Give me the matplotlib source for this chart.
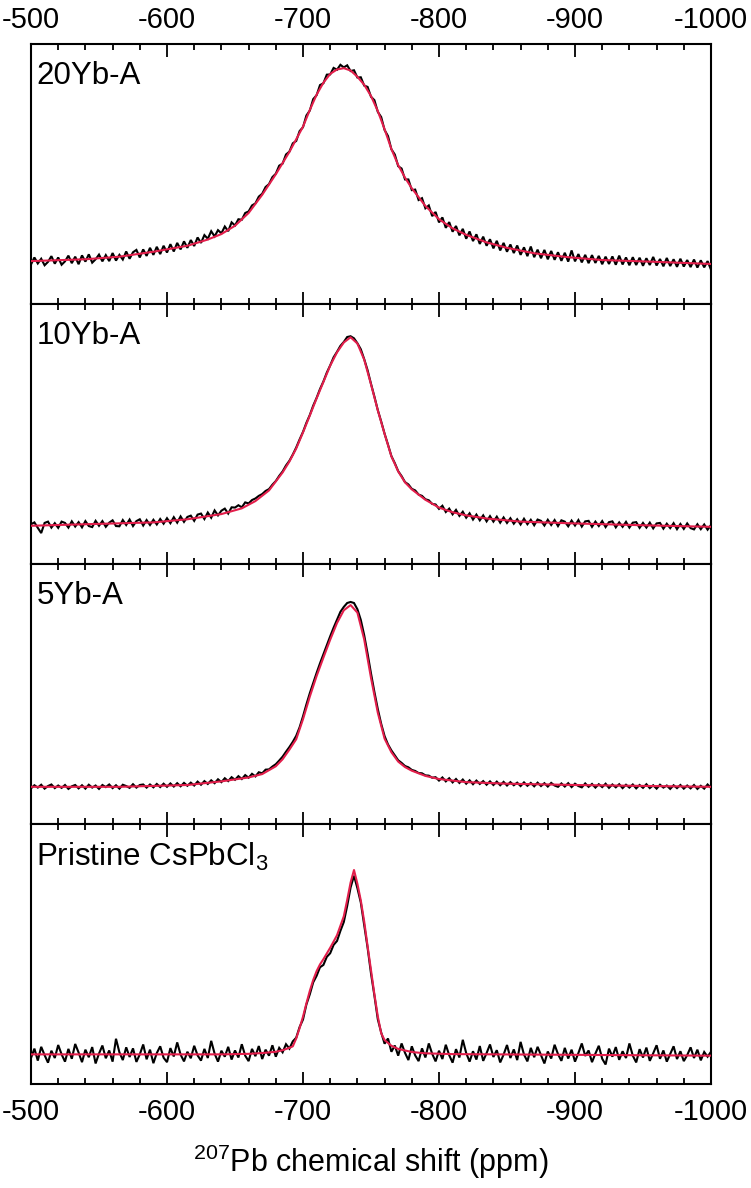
import numpy as np
import matplotlib
matplotlib.use("Agg")
import matplotlib.pyplot as plt
from matplotlib.ticker import MultipleLocator

plt.rcParams['font.family'] = ['Liberation Sans', 'DejaVu Sans']
plt.rcParams['mathtext.fontset'] = 'custom'
plt.rcParams['mathtext.rm'] = 'Liberation Sans'
plt.rcParams['mathtext.default'] = 'regular'
plt.rcParams['axes.unicode_minus'] = False

# ---------------- data (normalised intensity, 0-100 per panel) ----------------
labels = ["20Yb-A", "10Yb-A", "5Yb-A", "Pristine CsPbCl$_3$"]
x_ticks = [-500, -600, -700, -800, -900, -1000]
x_label = "$^{207}$Pb chemical shift (ppm)"

# experimental spectra sampled every 2.5 ppm from -500 to -1000 ppm
exp_20yb = [15.2, 17.9, 15.6, 17.4, 14.9, 16.2, 18.4, 15.5, 17.9, 15.1, 16.4, 18.6, 15.7, 18.2, 15.3, 18.7, 16.3, 19.1, 15.9, 17.2,
            19.0, 16.4, 18.8, 16.5, 19.6, 16.7, 18.9, 17.1, 20.2, 17.4, 19.9, 20.8, 17.9, 21.0, 18.5, 21.6, 18.9, 22.0, 19.2, 22.4,
            19.8, 23.0, 20.2, 23.5, 21.0, 24.1, 21.6, 24.6, 22.3, 25.6, 23.5, 26.5, 25.1, 28.0, 26.0, 28.4, 27.2, 29.8, 28.0, 31.4,
            30.2, 32.6, 32.4, 35.0, 35.6, 37.9, 38.7, 41.3, 42.4, 45.0, 46.1, 48.8, 50.1, 53.2, 54.0, 57.5, 58.6, 61.8, 62.7, 66.5,
            68.0, 72.5, 74.4, 78.8, 80.3, 84.2, 84.9, 88.2, 88.3, 90.8, 90.1, 92.0, 91.0, 91.8, 89.6, 89.9, 87.1, 87.2, 84.0, 83.5,
            79.7, 78.4, 73.9, 71.9, 66.9, 64.6, 59.5, 57.5, 53.0, 52.1, 47.9, 47.9, 43.8, 44.0, 40.0, 40.7, 36.8, 37.9, 33.8, 35.4,
            31.4, 33.3, 29.3, 31.5, 27.8, 30.0, 26.4, 28.9, 25.1, 27.9, 24.2, 26.8, 23.1, 25.9, 22.4, 24.9, 21.4, 24.3, 20.6, 23.5,
            20.1, 22.9, 19.6, 22.5, 18.9, 21.8, 18.4, 22.1, 18.0, 20.9, 17.6, 20.8, 17.2, 20.4, 17.0, 19.9, 16.6, 19.7, 16.3, 20.6,
            16.4, 19.2, 16.0, 18.9, 15.7, 18.8, 15.8, 18.5, 15.3, 18.2, 15.4, 18.3, 15.1, 18.6, 15.2, 17.9, 14.9, 18.0, 15.0, 17.8,
            14.7, 17.6, 15.0, 18.1, 14.8, 17.3, 14.5, 17.7, 14.6, 17.2, 14.3, 17.4, 14.4, 16.9, 14.2, 17.1, 14.0, 16.8, 14.1, 16.5,
            13.2]
exp_10yb = [15.3, 16.0, 13.9, 11.9, 15.8, 16.3, 14.0, 15.7, 13.9, 16.3, 15.8, 14.0, 16.4, 14.4, 16.1, 14.1, 16.5, 14.6, 14.2, 16.6,
            14.7, 16.5, 14.3, 15.9, 16.8, 14.6, 14.5, 16.9, 15.0, 17.1, 14.6, 16.5, 17.2, 14.8, 16.9, 15.0, 17.0, 15.2, 17.3, 15.5,
            17.6, 15.7, 18.0, 15.9, 18.3, 16.2, 18.1, 18.6, 16.6, 19.0, 19.4, 17.3, 19.8, 17.8, 20.6, 18.7, 20.5, 21.3, 19.4, 21.8,
            21.7, 22.6, 21.8, 23.7, 23.3, 24.6, 25.2, 26.2, 26.9, 28.1, 28.8, 30.5, 31.9, 33.9, 35.6, 37.9, 39.7, 42.1, 44.8, 47.9,
            50.8, 54.3, 57.3, 60.9, 63.9, 67.3, 70.2, 73.6, 76.4, 79.5, 81.6, 83.9, 85.4, 87.3, 87.6, 86.8, 84.9, 82.6, 78.8, 74.5,
            69.3, 64.4, 59.2, 54.8, 50.1, 45.9, 41.5, 38.8, 35.7, 33.8, 31.5, 30.6, 28.9, 28.3, 26.7, 26.2, 24.9, 24.5, 23.1, 22.9,
            21.2, 22.4, 20.0, 21.3, 19.1, 20.8, 18.5, 20.1, 17.8, 19.5, 17.1, 19.0, 16.8, 18.7, 16.4, 18.4, 16.3, 18.2, 15.9, 17.9,
            15.8, 17.6, 15.5, 17.2, 15.2, 17.4, 15.3, 17.0, 14.9, 17.1, 16.6, 14.8, 17.0, 15.0, 16.9, 14.6, 16.8, 16.3, 14.5, 16.7,
            14.8, 16.9, 14.4, 16.4, 16.6, 14.3, 16.3, 14.6, 16.5, 14.2, 16.1, 16.4, 14.1, 16.0, 14.3, 16.2, 14.0, 15.9, 16.1, 13.9,
            15.8, 14.0, 15.9, 13.7, 15.6, 15.8, 13.6, 15.5, 13.8, 15.7, 13.4, 15.4, 13.5, 15.6, 13.8, 13.3, 15.3, 13.4, 15.2, 13.2,
            15.0]
exp_5yb = [13.7, 14.9, 14.0, 15.1, 13.6, 14.6, 15.2, 13.8, 14.8, 13.9, 15.0, 13.5, 14.5, 15.0, 13.7, 14.9, 13.6, 15.1, 14.0, 14.8,
           13.5, 15.0, 14.2, 15.2, 13.8, 14.9, 13.6, 15.1, 14.6, 13.9, 15.3, 14.0, 15.0, 15.2, 14.0, 15.2, 14.1, 15.4, 14.2, 15.5,
           14.3, 15.6, 14.4, 15.7, 14.5, 15.8, 14.7, 15.9, 14.8, 16.3, 15.1, 16.5, 15.4, 16.8, 15.7, 17.2, 16.1, 17.6, 16.5, 18.0,
           17.0, 18.4, 17.3, 18.8, 17.8, 19.3, 18.3, 19.9, 19.5, 20.9, 21.0, 22.1, 23.0, 24.4, 25.9, 27.8, 29.6, 31.6, 33.9, 37.2,
           41.4, 46.0, 50.3, 54.2, 58.1, 61.8, 65.3, 68.7, 72.2, 75.5, 78.6, 81.6, 83.5, 85.0, 85.4, 85.0, 82.6, 78.5, 72.6, 65.5,
           57.9, 50.8, 44.2, 38.5, 33.8, 30.6, 28.3, 26.4, 24.5, 23.5, 22.3, 21.8, 20.8, 20.4, 19.6, 19.5, 18.7, 18.6, 17.8, 18.0,
           16.7, 17.9, 16.4, 17.6, 16.0, 17.3, 15.8, 17.1, 15.5, 16.8, 15.3, 16.7, 15.4, 16.5, 15.1, 16.4, 15.0, 16.3, 14.9, 16.2,
           14.8, 16.1, 14.9, 15.9, 14.6, 16.0, 14.7, 15.8, 14.5, 15.9, 14.6, 15.7, 14.4, 15.8, 14.8, 14.3, 15.6, 14.4, 15.7, 14.2,
           15.5, 14.6, 14.1, 15.6, 14.3, 15.4, 14.0, 15.3, 14.2, 15.5, 13.9, 15.2, 14.1, 15.3, 13.8, 15.1, 14.0, 15.2, 13.7, 15.0,
           13.9, 15.3, 13.8, 14.9, 13.6, 15.1, 14.0, 14.8, 13.5, 14.9, 13.8, 15.0, 13.6, 14.8, 13.7, 15.0, 13.5, 14.7, 13.6, 15.2,
           13.9]
exp_pristine = [10.0, 13.6, 9.0, 14.3, 11.1, 8.2, 12.8, 10.0, 15.0, 11.4, 8.6, 13.5, 9.7, 15.4, 12.1, 8.4, 13.2, 10.3, 14.2, 7.9,
                11.7, 14.8, 9.9, 12.9, 8.6, 17.4, 12.2, 9.2, 14.1, 10.4, 13.7, 8.5, 11.4, 15.2, 9.5, 13.2, 8.0, 11.9, 14.5, 10.1,
                8.4, 13.8, 10.6, 16.0, 11.3, 8.7, 12.4, 9.9, 14.7, 11.0, 9.0, 13.5, 10.0, 16.6, 11.7, 8.6, 12.8, 10.5, 14.3, 9.4,
                12.9, 10.2, 15.3, 10.9, 8.8, 13.5, 10.7, 14.6, 9.6, 13.2, 10.9, 14.9, 10.5, 13.9, 12.2, 15.3, 13.6, 16.4, 17.8,
                21.9, 24.8, 30.6, 34.5, 39.1, 41.6, 44.9, 45.8, 48.9, 50.3, 53.5, 55.0, 58.9, 62.3, 68.5, 75.6, 80.1, 75.3, 69.8,
                61.0, 52.4, 42.5, 34.0, 24.9, 19.8, 15.5,
                17.5, 12.4, 14.8, 10.9, 15.6, 12.0, 9.2, 14.5, 11.0, 8.8, 13.7, 10.2, 15.6, 11.6, 8.7, 12.8, 9.6, 15.1, 11.1, 8.2,
                13.4, 10.2, 17.0, 11.9, 8.6, 12.6, 9.4, 14.6, 8.9, 11.9, 15.2, 10.4, 13.0, 8.3, 11.3, 15.0, 10.0, 13.3, 9.2, 16.2,
                11.3, 8.7, 13.9, 10.3, 14.3, 11.1, 7.9, 12.5, 9.8, 15.1, 11.5, 8.9, 13.9, 9.8, 13.2, 8.6, 11.9, 15.6, 10.8, 12.9,
                8.4, 11.7, 14.7, 9.7, 7.5, 13.6, 10.5, 14.2, 9.3, 12.6, 10.0, 15.6, 10.9, 8.3, 13.4, 10.2, 14.0, 8.9, 11.8, 14.9,
                9.7, 12.9, 8.6, 11.6, 14.5, 9.6, 12.6, 8.8, 11.1, 14.1, 10.0, 13.2, 9.1, 12.3, 10.5, 12.4]

# fitted line shapes (ppm, intensity)
fit_20yb_ppm = [-500, -540, -565, -590, -615, -630, -640, -650, -660, -670, -680, -690, -700, -705, -710, -715, -720,
                -725, -730, -735, -740, -745, -750, -755, -760, -765, -770, -775, -780, -790, -800, -810, -820, -835,
                -850, -870, -895, -920, -950, -1000]
fit_20yb_int = [16.5, 17.2, 18.2, 20.1, 22.4, 24.8, 26.9, 30.1, 35.0, 42.0, 49.9, 58.5, 68.2, 74.6, 80.5, 85.1, 88.5,
                90.2, 90.7, 89.8, 87.4, 84.3, 80.0, 74.2, 67.2, 59.6, 53.4, 48.6, 44.5, 37.7, 32.6, 29.1, 26.6, 23.7,
                21.6, 19.5, 18.0, 16.9, 16.4, 15.4]
fit_10yb_ppm = [-500, -540, -590, -615, -640, -655, -665, -675, -685, -690, -695, -700, -705, -710, -715, -720, -725,
                -730, -735, -740, -745, -750, -755, -760, -765, -770, -775, -780, -790, -800, -810, -820, -835, -860,
                -900, -950, -1000]
fit_10yb_int = [14.7, 15.3, 16.0, 17.2, 19.2, 21.4, 24.2, 28.3, 35.2, 39.4, 44.4, 50.6, 57.1, 63.7, 70.0, 76.3, 81.4,
                85.2, 87.2, 84.8, 78.6, 69.1, 59.1, 50.0, 41.4, 35.6, 31.4, 28.7, 24.7, 21.7, 19.9, 18.7, 17.5, 16.3,
                15.6, 14.9, 14.3]
fit_5yb_ppm = [-500, -565, -615, -640, -660, -670, -680, -685, -690, -695, -700, -705, -710, -715, -720, -725, -730,
               -735, -740, -745, -750, -755, -760, -765, -770, -775, -780, -790, -800, -820, -850, -900, -1000]
fit_5yb_int = [14.3, 14.3, 15.0, 16.4, 17.9, 19.2, 22.2, 24.9, 28.6, 32.6, 40.3, 49.0, 56.9, 64.0, 70.9, 77.3, 82.2,
               84.2, 81.3, 71.0, 56.2, 42.8, 32.8, 27.6, 24.0, 21.9, 20.5, 18.5, 17.3, 16.1, 15.5, 15.0, 14.3]
fit_pristine_ppm = [-500, -640, -660, -670, -680, -685, -690, -692.5, -695, -697.5, -700, -702.5, -705, -707.5, -710,
                    -712.5, -715, -720, -725, -730, -732.5, -735, -737.5, -740, -742.5, -745, -747.5, -750, -752.5,
                    -755, -757.5, -760, -765, -770, -780, -790, -810, -1000]
fit_pristine_int = [11.4, 11.4, 11.6, 11.9, 12.4, 13.0, 13.9, 14.5, 17.5, 21.5, 25.9, 31.0, 35.8, 40.0, 43.4,
                    46.0, 48.0, 52.4, 57.2, 64.5, 70.8, 77.5, 82.3, 77.0, 70.6, 62.5, 53.0, 43.8, 34.5,
                    26.0, 19.5, 16.9, 14.7, 13.5, 12.3, 11.8, 11.5, 10.9]

experimental = [exp_20yb, exp_10yb, exp_5yb, exp_pristine]
fits = [(fit_20yb_ppm, fit_20yb_int), (fit_10yb_ppm, fit_10yb_int),
        (fit_5yb_ppm, fit_5yb_int), (fit_pristine_ppm, fit_pristine_int)]

# ---------------- figure ----------------
W, H = 751, 1188
fig = plt.figure(figsize=(W / 100, H / 100), dpi=100)
left, right = 31, 711
top0, ph = 44, 260
RED = '#E31E4B'

axes = []
for i in range(4):
    t = top0 + i * ph
    ax = fig.add_axes([left / W, 1 - (t + ph) / H, (right - left) / W, ph / H])
    axes.append(ax)
    spec = experimental[i]
    ppm = np.linspace(-500, -1000, len(spec))
    ax.plot(ppm, spec, color='black', lw=1.5, zorder=2, solid_joinstyle='miter')
    fx, fy = fits[i]
    ax.plot(fx, fy, color=RED, lw=1.5, zorder=3)
    ax.set_xlim(-500, -1000)
    ax.set_ylim(0, 100)
    ax.set_yticks([])
    ax.xaxis.set_minor_locator(MultipleLocator(20))
    ax.set_xticks(x_ticks)
    ax.tick_params(axis='x', which='both', direction='in', top=True, bottom=True,
                   labeltop=(i == 0), labelbottom=(i == 3), labelsize=21, width=1.3,
                   pad=(10 if i == 3 else 7))
    ax.tick_params(axis='x', which='major', length=9)
    ax.tick_params(axis='x', which='minor', length=4.5)
    for s in ax.spines.values():
        s.set_linewidth(1.5)
    ax.text(0.008, 0.935, labels[i], transform=ax.transAxes, ha='left', va='top',
            fontsize=22.5)

axes[-1].set_xlabel(x_label, fontsize=22, labelpad=12)

fig.savefig('out.png', dpi=100)
